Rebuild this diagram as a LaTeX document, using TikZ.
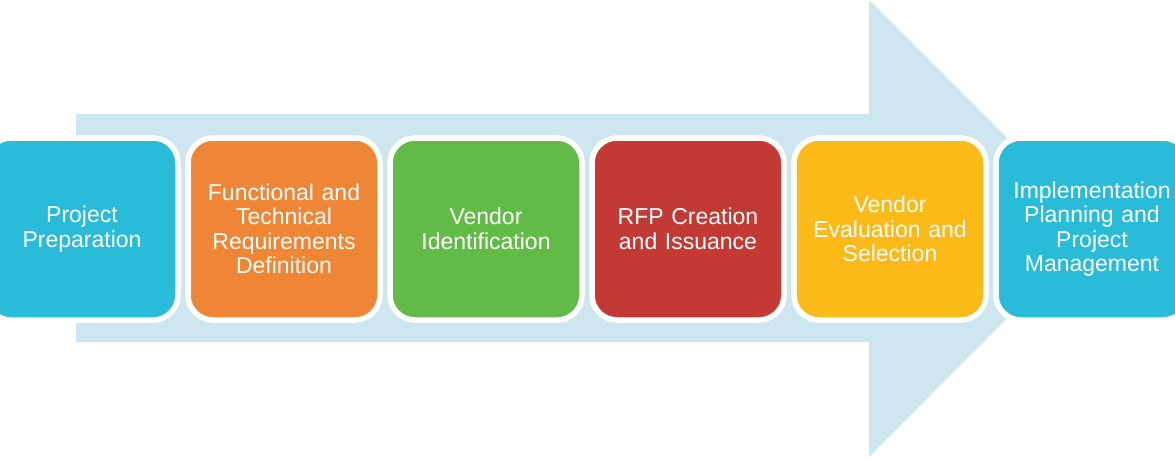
\documentclass[tikz,border=0pt]{standalone}
\usepackage{fontspec}
\setmainfont{Liberation Sans}
\definecolor{arrowbg}{HTML}{CDE6EF}
\definecolor{cyanbox}{HTML}{29BBD7}
\definecolor{orangebox}{HTML}{EF8636}
\definecolor{greenbox}{HTML}{62BB47}
\definecolor{redbox}{HTML}{C23A33}
\definecolor{yellowbox}{HTML}{FBBA18}
\tikzset{
  stagebox/.style={draw=white, line width=5.5pt, rounded corners=25pt,
    minimum width=192pt, minimum height=182pt, text width=185pt, align=center,
    text=white, inner sep=0pt,
    font=\fontsize{23pt}{24.5pt}\selectfont},
}
\begin{document}
\begin{tikzpicture}[x=1pt,y=-1pt]
\useasboundingbox (0,0) rectangle (1175,460);
\clip (0,0) rectangle (1175,460);
\fill[arrowbg] (76,114) -- (869,114) -- (869,0) -- (1097,228) -- (869,457) -- (869,342) -- (76,342) -- cycle;
\node[stagebox, fill=cyanbox] (s1) at (82,229) {Project\\Preparation};
\node[stagebox, fill=orangebox] (s2) at (284,229) {Functional and\\Technical\\Requirements\\Definition};
\node[stagebox, fill=greenbox] (s3) at (486,229) {Vendor\\Identification};
\node[stagebox, fill=redbox] (s4) at (688,229) {RFP Creation\\and Issuance};
\node[stagebox, fill=yellowbox] (s5) at (890,229) {Vendor\\Evaluation and\\Selection};
\node[stagebox, fill=cyanbox] (s6) at (1092,229) {Implementation\\Planning and\\Project\\Management};
\end{tikzpicture}
\end{document}
